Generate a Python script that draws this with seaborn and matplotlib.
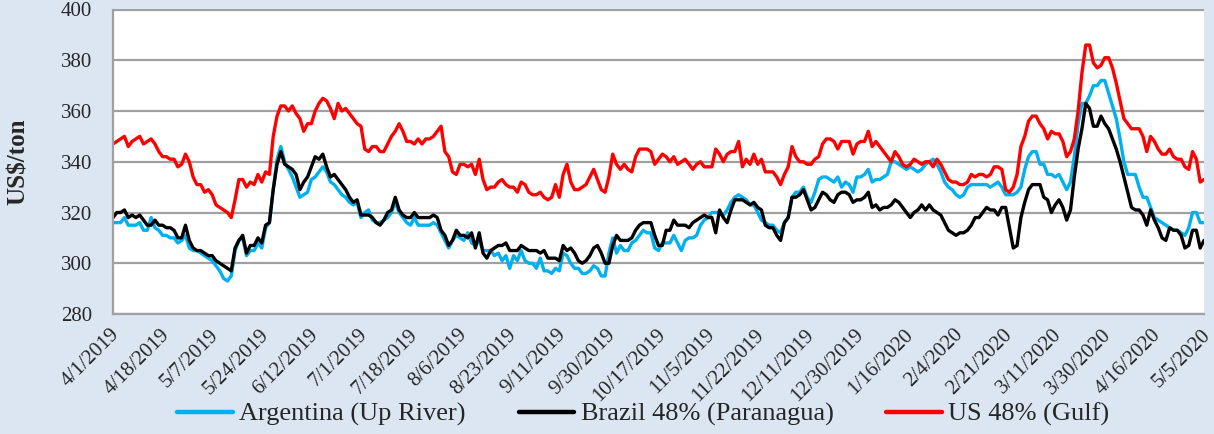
import numpy as np
import pandas as pd
import matplotlib
matplotlib.use("Agg")
import matplotlib.pyplot as plt
import matplotlib.transforms as mtransforms
import seaborn as sns

tick_labels = ["4/1/2019", "4/18/2019", "5/7/2019", "5/24/2019", "6/12/2019", "7/1/2019",
               "7/18/2019", "8/6/2019", "8/23/2019", "9/11/2019", "9/30/2019", "10/17/2019",
               "11/5/2019", "11/22/2019", "12/11/2019", "12/30/2019", "1/16/2020", "2/4/2020",
               "2/21/2020", "3/11/2020", "3/30/2020", "4/16/2020", "5/5/2020"]

series_names = ["Argentina (Up River)", "Brazil 48% (Paranagua)", "US 48% (Gulf)"]

argentina = [
    316, 316, 316, 318, 315, 315, 315, 316, 313, 313, 318, 314, 313, 311, 311, 310, 310, 308, 309, 311,
    306, 305, 305, 304, 303, 302, 301, 299, 297, 294, 293, 295, 305, 309, 310, 303, 305, 305, 308, 306,
    314, 316, 329, 341, 346, 340, 337, 334, 330, 326, 327, 328, 333, 334, 336, 338, 336, 332, 331, 329,
    327, 326, 324, 323, 324, 318, 320, 321, 317, 316, 316, 317, 318, 320, 324, 320, 318, 316, 315, 318,
    315, 315, 315, 315, 316, 315, 312, 309, 306, 309, 311, 310, 309, 312, 308, 307, 309, 305, 305, 305,
    303, 304, 301, 303, 298, 303, 301, 305, 301, 300, 300, 298, 302, 297, 297, 296, 298, 297, 304, 303,
    300, 298, 298, 296, 296, 297, 299, 298, 295, 295, 304, 310, 304, 307, 305, 305, 308, 309, 311, 313,
    312, 312, 306, 305, 308, 308, 308, 311, 308, 305, 309, 310, 310, 311, 315, 317, 318, 320, 320, 320,
    319, 321, 324, 326, 327, 326, 325, 323, 323, 320, 317, 316, 315, 315, 313, 312, 316, 318, 326, 328,
    328, 330, 326, 324, 328, 333, 334, 334, 333, 332, 334, 330, 332, 331, 328, 334, 334, 335, 337, 332,
    333, 333, 334, 335, 340, 340, 339, 338, 337, 338, 337, 336, 337, 339, 340, 341, 339, 336, 332, 330,
    329, 327, 326, 327, 330, 331, 331, 331, 331, 331, 330, 331, 332, 330, 327, 327, 327, 328, 330, 337,
    342, 344, 344, 339, 339, 335, 335, 334, 335, 332, 329, 332, 342, 355, 363, 363, 366, 370, 370, 372,
    372, 367, 362, 357, 349, 340, 335, 335, 335, 330, 326, 326, 322, 318, 317, 316, 315, 314, 313, 313,
    312, 311, 314, 320, 320, 316, 316]

brazil = [
    318, 320, 320, 321, 318, 319, 318, 319, 317, 315, 315, 317, 315, 315, 314, 314, 313, 310, 310, 315,
    309, 306, 305, 305, 304, 303, 303, 301, 300, 299, 298, 297, 306, 309, 311, 304, 307, 307, 310, 308,
    315, 316, 329, 339, 344, 339, 338, 337, 335, 329, 332, 334, 338, 342, 341, 343, 338, 334, 335, 333,
    331, 329, 326, 324, 325, 319, 319, 319, 318, 316, 315, 317, 320, 321, 326, 321, 319, 318, 318, 320,
    318, 318, 318, 318, 319, 318, 313, 311, 307, 309, 313, 311, 311, 310, 312, 306, 312, 304, 302, 305,
    306, 307, 307, 308, 305, 305, 305, 307, 306, 305, 305, 305, 304, 305, 302, 302, 302, 301, 307, 305,
    306, 304, 301, 300, 301, 303, 306, 307, 304, 300, 300, 307, 311, 309, 309, 309, 310, 313, 315, 316,
    316, 316, 311, 307, 307, 313, 313, 317, 315, 315, 315, 314, 316, 317, 318, 319, 318, 318, 312, 321,
    318, 316, 321, 325, 325, 325, 324, 323, 324, 322, 321, 315, 314, 314, 311, 309, 316, 318, 326, 326,
    327, 329, 325, 321, 322, 325, 328, 327, 325, 324, 327, 328, 328, 327, 324, 325, 325, 326, 328, 322,
    323, 321, 322, 322, 323, 325, 324, 322, 320, 318, 320, 321, 323, 321, 323, 321, 320, 319, 316, 313,
    312, 311, 312, 312, 313, 315, 318, 318, 320, 322, 321, 321, 319, 322, 322, 314, 306, 307, 318, 324,
    329, 331, 331, 331, 326, 325, 320, 323, 325, 322, 317, 321, 334, 345, 353, 363, 361, 354, 354, 358,
    355, 353, 349, 345, 340, 334, 328, 322, 321, 321, 319, 315, 321, 317, 314, 310, 309, 314, 313, 313,
    311, 306, 307, 313, 313, 306, 309]

us_gulf = [
    347, 348, 349, 350, 346, 348, 349, 350, 347, 348, 349, 347, 344, 342, 342, 341, 341, 338, 339, 343,
    340, 334, 331, 331, 328, 329, 327, 323, 322, 321, 320, 318, 325, 333, 333, 330, 332, 331, 335, 332,
    336, 335, 350, 358, 362, 362, 360, 362, 359, 357, 352, 355, 355, 360, 363, 365, 364, 361, 357, 363,
    360, 361, 359, 357, 355, 354, 345, 344, 346, 346, 344, 344, 347, 350, 352, 355, 352, 348, 348, 347,
    349, 347, 349, 349, 350, 352, 354, 344, 342, 336, 335, 339, 339, 338, 339, 335, 341, 333, 329, 330,
    330, 332, 333, 331, 330, 330, 328, 332, 331, 328, 327, 327, 328, 326, 325, 326, 331, 326, 335, 339,
    332, 329, 329, 330, 331, 334, 337, 333, 329, 328, 334, 343, 339, 337, 339, 337, 336, 342, 345, 345,
    345, 344, 339, 341, 343, 342, 340, 342, 339, 340, 341, 339, 337, 339, 340, 338, 338, 338, 345, 343,
    340, 343, 344, 344, 348, 338, 341, 339, 343, 339, 341, 336, 336, 336, 334, 331, 335, 338, 346, 342,
    340, 340, 339, 339, 341, 342, 347, 349, 349, 348, 345, 348, 348, 348, 343, 347, 348, 348, 352, 346,
    348, 346, 344, 342, 340, 344, 342, 339, 338, 339, 341, 340, 339, 340, 340, 338, 341, 339, 336, 333,
    332, 332, 331, 331, 332, 335, 334, 335, 335, 334, 335, 338, 338, 337, 329, 328, 330, 335, 346, 350,
    356, 358, 358, 355, 353, 349, 352, 351, 351, 348, 342, 344, 349, 360, 375, 386, 386, 379, 377, 378,
    381, 381, 377, 371, 364, 357, 355, 353, 353, 353, 350, 344, 350, 348, 345, 343, 343, 345, 342, 341,
    341, 338, 337, 344, 341, 332, 333]

n = len(us_gulf)
df = pd.DataFrame({
    "idx": np.tile(np.arange(n), 3),
    "value": argentina + brazil + us_gulf,
    "series": np.repeat(series_names, n),
})

bg = "#dce6f2"
grid_c = "#a0a0a0"
colors = {"Argentina (Up River)": "#00b0f0", "Brazil 48% (Paranagua)": "#000000", "US 48% (Gulf)": "#ff0000"}

sns.set_theme(style="white")
plt.rcParams["font.family"] = ["Liberation Serif", "DejaVu Serif"]

fig = plt.figure(figsize=(12.14, 4.34), dpi=100, facecolor=bg)
ax = fig.add_axes([113 / 1214, 1 - 314 / 434, (1204 - 113) / 1214, (314 - 9.5) / 434])
ax.set_facecolor("white")

sns.lineplot(data=df, x="idx", y="value", hue="series", hue_order=series_names,
             palette=colors, linewidth=2.4, ax=ax, legend=False)

ax.set_xlim(0, n - 1)
ax.set_ylim(280, 400)
ax.set_yticks(np.arange(280, 401, 20))
ax.yaxis.grid(True, color=grid_c, linewidth=1.6)
ax.set_axisbelow(True)

label_pos = np.arange(0, n, 13)
ax.set_xticks(label_pos)
ax.set_xticklabels(tick_labels, rotation=45, ha="right", va="center", rotation_mode="anchor", fontsize=15)
ax.tick_params(axis="x", which="major", length=0, pad=13)
offset = mtransforms.ScaledTranslation(4 / 100, 0, fig.dpi_scale_trans)
for lab in ax.get_xticklabels():
    lab.set_transform(lab.get_transform() + offset)
ax.set_xticks(np.arange(0, n, 5), minor=True)
ax.tick_params(axis="x", which="minor", length=6, width=1.2, color=grid_c, direction="out")
ax.tick_params(axis="y", which="major", length=6, width=1.2, color=grid_c, labelsize=15, pad=9)

for s in ["top", "right"]:
    ax.spines[s].set_visible(False)
for s in ["left", "bottom"]:
    ax.spines[s].set_color(grid_c)
    ax.spines[s].set_linewidth(1.6)

ax.set_xlabel("")
ax.set_ylabel("US$/ton", fontsize=18, fontweight="bold")
ax.yaxis.set_label_coords(-0.076, 0.5)

handles = [plt.Line2D([], [], color=colors[s], linewidth=3.2) for s in series_names]
fig.legend(handles, series_names, loc="center", bbox_to_anchor=(0.53, 0.045), ncol=3,
           frameon=False, fontsize=19, handlelength=2.1, handletextpad=0.25, columnspacing=2.0)

fig.savefig("out.png", dpi=100, facecolor=bg)
